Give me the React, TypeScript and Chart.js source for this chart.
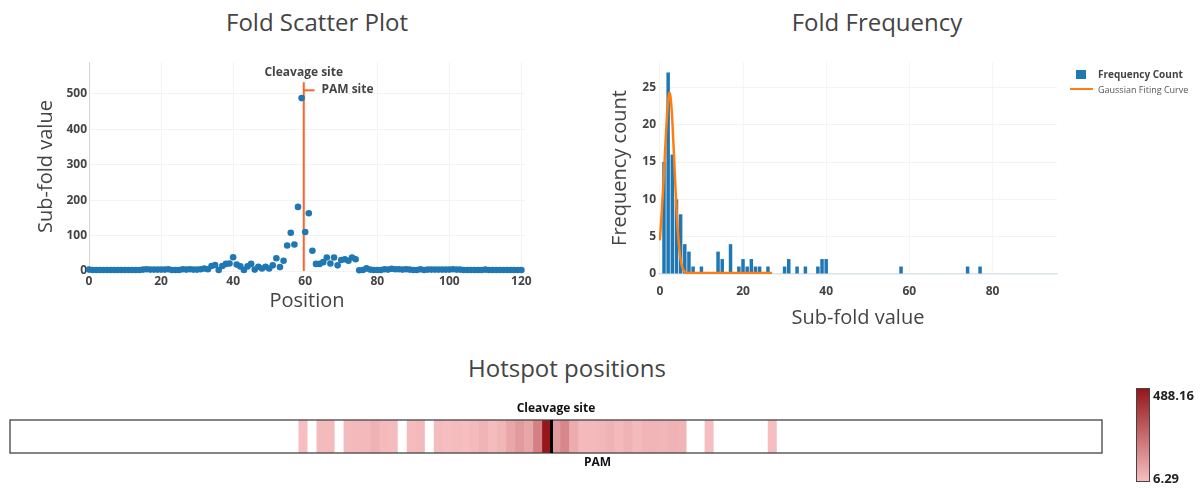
import React, { useEffect, useRef } from "react";
import { Chart, registerables } from "chart.js";
Chart.register(...registerables);

const FONT = "'Open Sans', 'Noto Sans', sans-serif";
const TEXT = "#444";

// ---------- Fold scatter plot ----------
const positions: number[] = Array.from({ length: 121 }, (_, i) => i);
const subFoldValues: number[] = [
  4, 3, 3, 3, 3, 3, 3, 3, 3, 3, 3, 3, 3, 3, 3, 4, 5, 4, 4, 4,
  4, 4, 5, 3, 3, 3, 5, 4, 5, 4, 4, 5, 7, 5, 14, 17, 3, 14, 20, 21,
  39, 18, 13, 3, 13, 20, 4, 12, 7, 12, 7, 16, 36, 11, 29, 72, 108, 75, 181, 488.16,
  110, 163, 57, 20, 20, 25, 38, 21, 38, 16, 31, 33, 29, 38, 33, 2, 3, 7.4, 4, 3,
  3, 3, 5, 4, 6.29, 5, 5, 4, 5, 4, 3, 3, 5, 3, 4, 4, 4, 4, 4, 4,
  4, 5, 4, 4, 3, 3, 3, 3, 3, 3, 4, 3, 3, 3, 3, 3, 3, 3, 3, 3,
  3,
];
const scatterXTicks = [0, 20, 40, 60, 80, 100, 120];
const scatterYTicks = [0, 100, 200, 300, 400, 500];
const CLEAVAGE_X = 59.6;
const CLEAVAGE_LINE_TOP = 533;
const PAM_TICK_Y = 510;
const PAM_TICK_END = 62.6;
const CLEAVAGE_LABEL_Y = 560;
const PAM_LABEL_X = 64.5;
const PAM_LABEL_Y = 513;

// ---------- Fold frequency histogram ----------
const histBins: number[] = [1, 2, 3, 4, 5, 6, 7, 8, 10, 14, 15, 17, 19, 20, 21, 22, 23, 24, 26, 30, 31, 33, 35, 38, 39, 40, 58, 74, 77];
const histCounts: number[] = [15, 27, 16, 10, 8, 4, 3, 1, 1, 3, 2, 4, 1, 2, 1, 2, 1, 1, 1, 1, 2, 1, 1, 1, 2, 2, 1, 1, 1];
const gaussX: number[] = [0, 0.5, 1, 1.5, 2, 2.3, 2.6, 3, 3.5, 4, 4.5, 5, 5.5, 6, 6.5, 7, 8, 12, 18, 27];
const gaussY: number[] = [4.5, 8.6, 13.6, 19, 23.3, 24.3, 23.6, 20.6, 14.6, 8.8, 4.5, 1.9, 0.75, 0.3, 0.17, 0.15, 0.15, 0.15, 0.15, 0.15];
const histXTicks = [0, 20, 40, 60, 80];
const histYTicks = [0, 5, 10, 15, 20, 25];

// ---------- Hotspot heatmap ----------
const colorbarLabels = ["488.16", "6.29"];
const HOT_MIN = 6.29;
const HOT_MAX = 488.16;
const CLEAVAGE_CELL_EDGE = 59.5;
const CLEAVAGE_CELL_LABEL = 60;
const PAM_CELL_LABEL = 64.6;

const LOW = [246, 190, 192];
const HIGH = [150, 22, 26];
function heatColor(v: number): string {
  if (v < HOT_MIN) return "#ffffff";
  const t = Math.min(1, Math.max(0, (v - HOT_MIN) / (HOT_MAX - HOT_MIN)));
  const c = LOW.map((l, k) => Math.round(l + (HIGH[k] - l) * t));
  return `rgb(${c[0]},${c[1]},${c[2]})`;
}

const tickFont = { family: FONT, size: 12, weight: "bold" as const };

function ScatterChart() {
  const ref = useRef<HTMLCanvasElement>(null);
  useEffect(() => {
    const annot = {
      id: "scatterAnnot",
      afterDatasetsDraw(chart: any) {
        const { ctx, scales } = chart;
        const x = scales.x, y = scales.y;
        ctx.save();
        ctx.fillStyle = TEXT;
        ctx.font = `bold 12px ${FONT}`;
        ctx.textBaseline = "middle";
        ctx.textAlign = "center";
        ctx.fillText("Cleavage site", x.getPixelForValue(CLEAVAGE_X), y.getPixelForValue(CLEAVAGE_LABEL_Y));
        ctx.textAlign = "left";
        ctx.fillText("PAM site", x.getPixelForValue(PAM_LABEL_X), y.getPixelForValue(PAM_LABEL_Y));
        ctx.restore();
      },
    };
    const chart = new Chart(ref.current!, {
      type: "scatter",
      data: {
        datasets: [
          {
            data: positions.map((p, i) => ({ x: p, y: subFoldValues[i] })),
            backgroundColor: "#1f77b4",
            borderWidth: 0,
            pointRadius: 3.3,
            clip: false,
            order: 1,
          } as any,
          {
            data: [{ x: CLEAVAGE_X, y: 0 }, { x: CLEAVAGE_X, y: CLEAVAGE_LINE_TOP }],
            showLine: true,
            borderColor: "#f8652f",
            borderWidth: 2,
            pointRadius: 0,
            order: 2,
          } as any,
          {
            data: [{ x: CLEAVAGE_X, y: PAM_TICK_Y }, { x: PAM_TICK_END, y: PAM_TICK_Y }],
            showLine: true,
            borderColor: "#f8652f",
            borderWidth: 2,
            pointRadius: 0,
            clip: false,
            order: 2,
          } as any,
        ],
      },
      options: {
        responsive: false,
        animation: false,
        layout: { padding: { left: 0, top: 62, right: 35, bottom: 17 } },
        plugins: { legend: { display: false }, tooltip: { enabled: false } },
        scales: {
          x: {
            type: "linear",
            min: 0,
            max: 121,
            afterFit: (s: any) => { s.height = 42; },
            afterBuildTicks: (s: any) => { s.ticks = scatterXTicks.map((v) => ({ value: v })); },
            ticks: { padding: 3, color: TEXT, font: tickFont, maxRotation: 0 },
            grid: { color: "#f3f3f3", drawTicks: false },
            border: { display: false },
            title: { display: true, text: "Position", color: TEXT, font: { family: FONT, size: 20 }, padding: 0 },
          },
          y: {
            type: "linear",
            min: 0,
            max: 590,
            afterFit: (s: any) => { s.width = 89; },
            afterBuildTicks: (s: any) => { s.ticks = scatterYTicks.map((v) => ({ value: v })); },
            ticks: { padding: 2, color: TEXT, font: tickFont },
            grid: { color: "#f3f3f3", drawTicks: false },
            border: { display: true, color: "#d6d6d6", width: 1 },
            title: { display: true, text: "Sub-fold value", color: TEXT, font: { family: FONT, size: 20 }, padding: { top: 34, bottom: 0 } },
          },
        },
      } as any,
      plugins: [annot],
    });
    return () => chart.destroy();
  }, []);
  return <canvas ref={ref} width={560} height={330} style={{ position: "absolute", left: 0, top: 0, width: 560, height: 330 }} />;
}

function HistChart() {
  const ref = useRef<HTMLCanvasElement>(null);
  useEffect(() => {
    const chart = new Chart(ref.current!, {
      type: "bar",
      data: {
        datasets: [
          {
            type: "line",
            data: gaussX.map((x, i) => ({ x, y: gaussY[i] })),
            borderColor: "#ff7f0e",
            borderWidth: 2.5,
            pointRadius: 0,
            fill: false,
            cubicInterpolationMode: "monotone",
            order: 0,
          } as any,
          {
            type: "bar",
            data: histBins.map((x, i) => ({ x, y: histCounts[i] })),
            backgroundColor: "#1f77b4",
            borderWidth: 0,
            barPercentage: 0.84,
            categoryPercentage: 1,
            order: 1,
          } as any,
        ],
      },
      options: {
        responsive: false,
        animation: false,
        layout: { padding: { left: 0, top: 62, right: 146, bottom: 0 } },
        plugins: { legend: { display: false }, tooltip: { enabled: false } },
        scales: {
          x: {
            type: "linear",
            min: -0.2,
            max: 95.5,
            offset: false,
            afterFit: (s: any) => { s.height = 56; },
            afterBuildTicks: (s: any) => { s.ticks = histXTicks.map((v) => ({ value: v })); },
            ticks: { padding: 10, color: TEXT, font: tickFont, maxRotation: 0 },
            grid: { color: "#f5f5f5", drawTicks: false, offset: false },
            border: { display: true, color: "#dbe3ec", width: 1.2 },
            title: { display: true, text: "Sub-fold value", color: TEXT, font: { family: FONT, size: 20 }, padding: 0 },
          },
          y: {
            type: "linear",
            min: 0,
            max: 28.4,
            afterFit: (s: any) => { s.width = 99; },
            afterBuildTicks: (s: any) => { s.ticks = histYTicks.map((v) => ({ value: v })); },
            ticks: { padding: 3, color: TEXT, font: tickFont },
            grid: { color: "#f3f3f3", drawTicks: false },
            border: { display: false },
            title: { display: true, text: "Frequency count", color: TEXT, font: { family: FONT, size: 20 }, padding: { top: 48, bottom: 0 } },
          },
        },
      } as any,
    });
    return () => chart.destroy();
  }, []);
  return <canvas ref={ref} width={643} height={330} style={{ position: "absolute", left: 560, top: 0, width: 643, height: 330 }} />;
}

function HeatChart() {
  const ref = useRef<HTMLCanvasElement>(null);
  useEffect(() => {
    const deco = {
      id: "heatDeco",
      afterDatasetsDraw(chart: any) {
        const { ctx, chartArea: a, scales } = chart;
        const x = scales.x;
        ctx.save();
        ctx.strokeStyle = "#444";
        ctx.lineWidth = 1.3;
        ctx.strokeRect(a.left, a.top, a.right - a.left, a.bottom - a.top);
        const cx = x.getPixelForValue(CLEAVAGE_CELL_EDGE);
        ctx.strokeStyle = "#000";
        ctx.lineWidth = 3;
        ctx.beginPath();
        ctx.moveTo(cx, a.top);
        ctx.lineTo(cx, a.bottom);
        ctx.stroke();
        ctx.fillStyle = "#111";
        ctx.font = `bold 12px ${FONT}`;
        ctx.textAlign = "center";
        ctx.textBaseline = "middle";
        ctx.fillText("Cleavage site", x.getPixelForValue(CLEAVAGE_CELL_LABEL), a.top - 11);
        ctx.fillText("PAM", x.getPixelForValue(PAM_CELL_LABEL), a.bottom + 10);
        ctx.restore();
      },
    };
    const chart = new Chart(ref.current!, {
      type: "bar",
      data: {
        datasets: [
          {
            data: positions.map((p) => ({ x: p, y: 1 })),
            backgroundColor: subFoldValues.map((v) => heatColor(v)),
            borderWidth: 0,
            barPercentage: 1,
            categoryPercentage: 1,
          } as any,
        ],
      },
      options: {
        responsive: false,
        animation: false,
        layout: { padding: { left: 10, top: 40, right: 101, bottom: 35 } },
        plugins: { legend: { display: false }, tooltip: { enabled: false } },
        scales: {
          x: { type: "linear", min: -0.5, max: 120.5, offset: false, display: false },
          y: { type: "linear", min: 0, max: 1, display: false },
        },
      } as any,
      plugins: [deco],
    });
    return () => chart.destroy();
  }, []);
  return <canvas ref={ref} width={1203} height={108} style={{ position: "absolute", left: 0, top: 380, width: 1203, height: 108 }} />;
}

function Title({ text, cx, cy }: { text: string; cx: number; cy: number }) {
  return (
    <div style={{ position: "absolute", left: cx - 200, top: cy - 16, width: 400, height: 32, lineHeight: "32px", textAlign: "center", fontFamily: FONT, fontSize: 24, color: TEXT, whiteSpace: "nowrap" }}>
      {text}
    </div>
  );
}

export default function App() {
  return (
    <div style={{ position: "absolute", left: 0, top: 0, width: 1203, height: 488, background: "#fff", overflow: "hidden" }}>
      <Title text="Fold Scatter Plot" cx={317} cy={22} />
      <Title text="Fold Frequency" cx={877} cy={22} />
      <Title text="Hotspot positions" cx={567} cy={368} />
      <ScatterChart />
      <HistChart />
      <HeatChart />
      {/* histogram legend */}
      <div style={{ position: "absolute", left: 1076, top: 70, width: 10, height: 9, background: "#1f77b4" }} />
      <div style={{ position: "absolute", left: 1098, top: 67, lineHeight: "15px", fontFamily: FONT, fontSize: 10, fontWeight: "bold", color: TEXT, whiteSpace: "nowrap" }}>Frequency Count</div>
      <div style={{ position: "absolute", left: 1070, top: 88, width: 23, height: 2, background: "#ff7f0e" }} />
      <div style={{ position: "absolute", left: 1098, top: 82, lineHeight: "15px", fontFamily: FONT, fontSize: 9, color: "#555", whiteSpace: "nowrap" }}>Gaussian Fiting Curve</div>
      {/* colorbar */}
      <div style={{ position: "absolute", left: 1136, top: 388, width: 14, height: 94, border: "1px solid #444", boxSizing: "border-box", background: `linear-gradient(to bottom, rgb(${HIGH.join(",")}), rgb(${LOW.join(",")}))` }} />
      <div style={{ position: "absolute", left: 1153, top: 386, lineHeight: "18px", fontFamily: FONT, fontSize: 13, fontWeight: "bold", color: "#222" }}>{colorbarLabels[0]}</div>
      <div style={{ position: "absolute", left: 1153, top: 469, lineHeight: "18px", fontFamily: FONT, fontSize: 13, fontWeight: "bold", color: "#222" }}>{colorbarLabels[1]}</div>
    </div>
  );
}
